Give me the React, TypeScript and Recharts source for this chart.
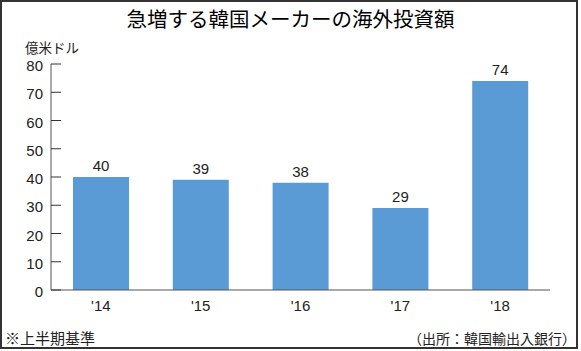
import React from "react";
import { BarChart, Bar, XAxis, YAxis, LabelList } from "recharts";

const categories = ["'14", "'15", "'16", "'17", "'18"];
const values = [40, 39, 38, 29, 74];
const yTicks = [0, 10, 20, 30, 40, 50, 60, 70, 80];

const data = categories.map((c, i) => ({ name: c, value: values[i] }));

const FONT = "'Liberation Sans', Arial, sans-serif";
const JFONT = "'Noto Sans CJK JP', sans-serif";

const YTick = (props: any) => {
  const { x, y, payload } = props;
  return (
    <g>
      <line x1={x + 9} x2={x + 19} y1={y} y2={y} stroke="#333" strokeWidth={1} />
      <text x={x + 1} y={y} dy={7} textAnchor="end" fontSize={15} fill="#222" fontFamily={FONT}>
        {payload.value}
      </text>
    </g>
  );
};

export default function App() {
  return (
    <div style={{ position: "fixed", left: 0, top: 0, width: 581, height: 351, background: "#fff" }}>
      <div
        style={{
          position: "absolute",
          left: 0,
          top: 0,
          width: 578,
          height: 349,
          boxSizing: "border-box",
          border: "2px solid #333",
        }}
      />
      <div
        style={{
          position: "absolute",
          left: 0,
          top: 3,
          width: 581,
          textAlign: "center",
          whiteSpace: "nowrap",
          fontFamily: JFONT,
          fontSize: 20.5,
          fontWeight: 400,
          lineHeight: "30px",
          color: "#000",
        }}
      >
        急増する韓国メーカーの海外投資額
      </div>
      <div
        style={{
          position: "absolute",
          left: 25,
          top: 40,
          fontFamily: JFONT,
          fontSize: 13.5,
          lineHeight: "14px",
          color: "#222",
        }}
      >
        億米ドル
      </div>
      <div style={{ position: "absolute", left: 0, top: 0 }}>
        <BarChart
          width={581}
          height={351}
          data={data}
          margin={{ top: 64, right: 31, bottom: 31, left: 0 }}
          barCategoryGap={0}
        >
          <XAxis
            dataKey="name"
            tickLine={false}
            axisLine={{ stroke: "#555", strokeWidth: 1 }}
            tick={{ fontSize: 15, fill: "#222", fontFamily: FONT }}
            tickMargin={4}
            height={30}
            interval={0}
          />
          <YAxis
            domain={[0, 80]}
            ticks={yTicks}
            width={51}
            tickSize={0}
            tickMargin={9}
            axisLine={{ stroke: "#555", strokeWidth: 1 }}
            tick={<YTick />}
            interval={0}
          />
          <Bar dataKey="value" fill="#5b9bd5" barSize={56} isAnimationActive={false}>
            <LabelList
              dataKey="value"
              position="top"
              offset={6}
              style={{ fontSize: 15, fill: "#222", fontFamily: FONT }}
            />
          </Bar>
        </BarChart>
      </div>
      <div
        style={{
          position: "absolute",
          left: 5,
          top: 328,
          fontFamily: JFONT,
          fontSize: 15,
          lineHeight: "20px",
          color: "#222",
        }}
      >
        ※上半期基準
      </div>
      <div
        style={{
          position: "absolute",
          right: 5,
          top: 328,
          fontFamily: JFONT,
          fontSize: 14,
          lineHeight: "20px",
          color: "#222",
        }}
      >
        （出所：韓国輸出入銀行）
      </div>
    </div>
  );
}
